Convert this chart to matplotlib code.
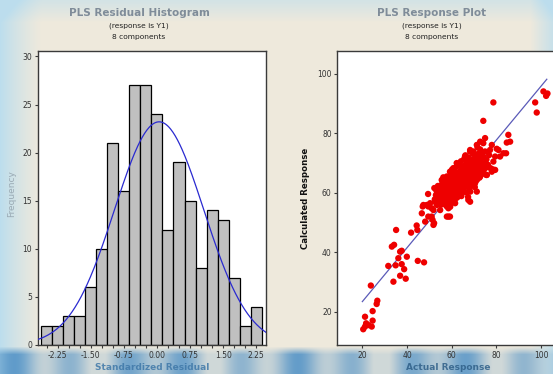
#!/usr/bin/env python3
"""
PLS residual histogram and response plot (Minitab style), two panels.
"""

import numpy as np
import matplotlib
matplotlib.use('Agg')
import matplotlib.pyplot as plt
from matplotlib.ticker import MultipleLocator

plt.rcParams.update({
    'font.family': 'DejaVu Sans',
    'font.size': 6,
})

# ---- histogram data (standardized residuals, bin width 0.25) ----
BIN_CENTERS = [-2.50, -2.25, -2.00, -1.75, -1.50, -1.25, -1.00, -0.75, -0.50, -0.25,
               0.00, 0.25, 0.50, 0.75, 1.00, 1.25, 1.50, 1.75, 2.00, 2.25]
BIN_COUNTS = [2, 2, 3, 3, 6, 10, 21, 16, 27, 27,
              24, 12, 19, 15, 8, 14, 13, 7, 2, 4]
BIN_WIDTH = 0.25
FIT_MEAN = 0.05
FIT_SD = 1.01
HIST_XTICKS = [-2.25, -1.50, -0.75, 0.00, 0.75, 1.50, 2.25]
HIST_YTICKS = [0, 5, 10, 15, 20, 25, 30]

# ---- response plot data (actual vs calculated) ----
low_tail = [
    (20.4, 14.1), (21.2, 15.0), (21.7, 16.1), (21.2, 18.3), (22.7, 15.5), (24.2, 15.0),
    (24.6, 17.0), (24.6, 20.2), (26.4, 22.6), (26.7, 23.7), (23.8, 28.8), (33.9, 30.1),
    (36.9, 32.1), (39.4, 31.1), (38.7, 34.3), (31.6, 35.4), (34.9, 35.6), (37.6, 36.0),
    (39.9, 38.5), (36.1, 38.0), (44.8, 37.1), (47.6, 36.6), (36.9, 40.2), (37.6, 40.5),
    (33.2, 41.9), (34.2, 42.5), (35.1, 47.5), (41.8, 46.6), (44.3, 49.0), (44.6, 47.5),
]
transition = [
    (46.6, 53.1), (47.0, 55.4), (47.3, 55.9), (48.1, 50.3), (49.4, 59.6), (49.5, 55.4),
    (50.3, 56.5), (51.0, 54.8), (51.0, 52.0), (51.4, 50.9), (51.8, 49.2), (51.8, 54.2),
    (52.1, 49.8), (53.3, 59.6), (52.5, 57.0), (53.5, 56.2), (54.8, 54.2), (55.5, 64.3),
    (57.8, 52.0), (58.5, 54.8), (57.0, 62.1), (56.2, 65.2), (54.0, 61.0), (48.8, 55.9),
    (53.3, 55.9), (55.5, 57.0), (49.5, 52.0), (59.2, 52.0),
]
core = [
    (52.4, 57.8), (52.9, 59.2), (53.6, 58.1), (53.1, 60.8), (52.2, 61.6), (53.8, 62.3),
    (54.3, 57.2), (54.6, 59.4), (54.1, 60.6),
    (55.2, 56.0), (55.6, 58.3), (55.1, 59.8), (55.8, 61.2), (55.4, 62.7), (56.3, 57.4),
    (56.7, 59.1), (56.2, 60.5), (56.9, 62.0), (56.5, 63.4), (57.3, 55.9), (57.6, 57.8),
    (57.1, 59.6), (57.8, 61.1), (57.4, 62.8), (57.9, 64.2),
    (58.2, 56.5), (58.6, 58.2), (58.3, 59.7), (58.8, 61.3), (58.4, 62.9), (58.9, 64.8),
    (59.3, 55.3), (59.6, 57.4), (59.2, 59.0), (59.7, 60.6), (59.4, 62.2), (59.8, 63.6),
    (59.5, 65.9), (60.2, 56.8), (60.6, 58.5), (60.3, 60.1), (60.8, 61.7), (60.4, 63.2),
    (60.9, 64.6), (60.5, 66.4), (60.1, 67.8),
    (61.3, 57.6), (61.7, 59.3), (61.2, 60.8), (61.8, 62.4), (61.4, 63.9), (61.9, 65.5),
    (61.6, 67.2), (62.4, 58.4), (62.8, 60.2), (62.3, 61.7), (62.9, 63.1), (62.5, 64.7),
    (62.7, 66.3), (62.2, 68.9), (63.3, 59.5), (63.7, 61.2), (63.2, 62.8), (63.8, 64.2),
    (63.4, 65.8), (63.9, 67.4), (63.6, 69.3),
    (64.3, 58.9), (64.7, 60.6), (64.2, 62.1), (64.8, 63.7), (64.4, 65.2), (64.9, 66.8),
    (64.5, 68.4), (64.1, 70.6), (65.3, 61.4), (65.7, 63.0), (65.2, 64.6), (65.8, 66.1),
    (65.4, 67.7), (65.9, 69.2), (65.5, 71.3), (66.3, 60.2), (66.7, 62.5), (66.2, 64.1),
    (66.8, 65.6), (66.4, 67.2), (66.9, 68.7), (66.6, 70.4), (66.1, 72.6),
    (67.3, 58.6), (67.7, 61.7), (67.2, 63.4), (67.8, 65.0), (67.4, 66.6), (67.9, 68.1),
    (67.5, 69.8), (67.6, 71.9), (68.3, 60.4), (68.7, 62.6), (68.2, 64.4), (68.8, 66.0),
    (68.4, 67.5), (68.9, 69.1), (68.5, 70.8), (69.3, 62.9), (69.7, 64.8), (69.2, 66.4),
    (69.8, 67.9), (69.4, 69.6), (69.9, 71.4), (69.5, 73.2),
    (70.3, 61.9), (70.7, 63.9), (70.2, 65.7), (70.8, 67.3), (70.4, 68.9), (70.9, 70.6),
    (70.6, 72.4), (71.3, 64.4), (71.7, 66.3), (71.2, 68.0), (71.8, 69.6), (71.4, 71.3),
    (71.9, 73.1), (71.5, 75.3), (72.4, 65.1), (72.8, 67.2), (72.3, 69.0), (72.9, 70.7),
    (72.5, 72.4), (72.7, 74.6),
    (73.4, 66.3), (73.8, 68.4), (73.2, 70.1), (73.9, 71.9), (73.5, 73.6), (74.4, 67.8),
    (74.8, 69.9), (74.3, 72.0), (74.9, 73.9), (75.4, 66.0), (75.8, 68.6), (75.5, 71.2),
    (76.2, 69.4), (76.7, 72.7), (77.3, 68.3), (77.9, 67.1),
    (67.4, 57.6), (71.2, 60.4), (68.2, 57.0), (63.7, 59.9), (61.5, 56.5), (57.8, 55.4),
    (58.5, 52.0), (70.4, 63.2), (72.7, 65.5), (75.7, 66.0),
]
upper = [
    (74.9, 78.4), (74.1, 76.7), (77.9, 76.1), (77.1, 74.4), (78.6, 70.5), (78.3, 67.9),
    (79.4, 72.2), (80.9, 74.4), (81.6, 72.2), (84.3, 73.3), (84.6, 76.9), (86.1, 77.2),
    (85.3, 79.5), (80.1, 74.8), (83.1, 73.3), (68.2, 73.9), (71.2, 76.1), (68.2, 74.4),
    (72.7, 77.2), (69.7, 73.9), (65.9, 72.2), (62.2, 70.0), (60.7, 68.3), (59.2, 67.1),
    (57.8, 65.5), (56.2, 64.3), (79.4, 67.7), (74.1, 66.6),
]
outliers = [
    (74.1, 84.2), (78.6, 90.4), (97.3, 90.4), (98.0, 87.0),
    (101.0, 94.1), (102.2, 92.6), (102.8, 93.4),
]
points = low_tail + transition + core + upper + outliers
ACTUAL = [p[0] for p in points]
CALCULATED = [p[1] for p in points]
FIT_X = [20.0, 102.5]
FIT_Y = [23.4, 98.2]
RESP_TICKS = [20, 40, 60, 80, 100]

W, H = 553, 374


def make_background():
    """Cream panel with light-blue haze at the edges and a blue strip at the bottom."""
    yy, xx = np.mgrid[0:H, 0:W].astype(float)
    cream = np.array([0.935, 0.915, 0.865])
    light = np.array([0.74, 0.87, 0.93])
    deep = np.array([0.33, 0.58, 0.78])
    img = np.ones((H, W, 3)) * cream
    w_left = np.clip(1 - xx / 42.0, 0, 1) ** 1.3
    w_top = np.clip(1 - yy / 22.0, 0, 1) * 0.55
    w_right = np.clip((xx - 530) / 23.0, 0, 1) * 0.8
    w = np.clip(w_left + w_top + w_right, 0, 1)[..., None]
    img = img * (1 - w) + light * w
    w_bot = np.clip((yy - 346) / 8.0, 0, 1)
    streak = 0.5 + 0.25 * np.sin(xx / 9.0) + 0.15 * np.sin(xx / 23.0 + 1.0)
    w_bot = (w_bot * np.clip(streak, 0.2, 1.0))[..., None]
    img = img * (1 - w_bot) + deep * w_bot
    return np.clip(img, 0, 1)


def style_axes(ax):
    for s in ax.spines.values():
        s.set_color('#3a3a3a')
        s.set_linewidth(1.0)
    ax.tick_params(direction='out', length=2.5, width=0.8, colors='#3a3a3a',
                   labelsize=5.5, pad=1.5, labelcolor='#333333')
    ax.set_facecolor('white')


fig = plt.figure(figsize=(W / 100, H / 100), dpi=100)
bg = fig.add_axes([0, 0, 1, 1], zorder=-1)
bg.imshow(make_background(), aspect='auto', extent=[0, 1, 0, 1])
bg.axis('off')

# ---- left: residual histogram ----
ax1 = fig.add_axes([37.7 / W, 1 - 345 / H, (266 - 37.7) / W, (345 - 50.7) / H])
ax1.bar(BIN_CENTERS, BIN_COUNTS, width=BIN_WIDTH, color='#c0c0c0',
        edgecolor='black', linewidth=0.9, zorder=2)
xs = np.linspace(-2.70, 2.47, 300)
n = sum(BIN_COUNTS)
dens = n * BIN_WIDTH / (FIT_SD * np.sqrt(2 * np.pi)) * np.exp(-0.5 * ((xs - FIT_MEAN) / FIT_SD) ** 2)
ax1.plot(xs, dens, color='#2a2ad0', linewidth=0.9, zorder=3)
ax1.set_xlim(-2.70, 2.47)
ax1.set_ylim(0, 30.6)
ax1.set_xticks(HIST_XTICKS)
ax1.set_xticklabels([f"{v:.2f}" for v in HIST_XTICKS])
ax1.xaxis.set_minor_locator(MultipleLocator(0.25))
ax1.set_yticks(HIST_YTICKS)
style_axes(ax1)
ax1.tick_params(which='minor', direction='out', length=2.5, width=0.8, colors='#3a3a3a')

# ---- right: response plot ----
ax2 = fig.add_axes([337.3 / W, 1 - 345 / H, (562 - 337.3) / W, (345 - 50.7) / H])
ax2.plot(FIT_X, FIT_Y, color='#5a5ab8', linewidth=0.9, zorder=2)
ax2.scatter(ACTUAL, CALCULATED, s=21, color='#ee0000', edgecolors='none', zorder=3)
ax2.set_xlim(8.8, 109.3)
ax2.set_ylim(8.8, 107.8)
ax2.set_xticks(RESP_TICKS)
ax2.set_yticks(RESP_TICKS)
style_axes(ax2)

# ---- titles and labels ----
title_kw = dict(ha='center', va='center', fontsize=7.5, fontweight='bold', color='#7f8c99')
sub_kw = dict(ha='center', va='center', fontsize=5.4, color='#222222')
for cx, title in [(139 / W, 'PLS Residual Histogram'), (432 / W, 'PLS Response Plot')]:
    fig.text(cx, 1 - 13 / H, title, **title_kw)
    fig.text(cx, 1 - 26 / H, '(response is Y1)', **sub_kw)
    fig.text(cx, 1 - 37 / H, '8 components', **sub_kw)

fig.text(152 / W, 1 - 367 / H, 'Standardized Residual', ha='center', va='center',
         fontsize=6.5, fontweight='bold', color='#3f78a8', alpha=0.85)
fig.text(448 / W, 1 - 367 / H, 'Actual Response', ha='center', va='center',
         fontsize=6.5, fontweight='bold', color='#2f5f88', alpha=0.85)
fig.text(12 / W, 1 - 194 / H, 'Frequency', ha='center', va='center', rotation=90,
         fontsize=6.5, color='#9aaab4')
fig.text(305 / W, 1 - 198 / H, 'Calculated Response', ha='center', va='center',
         rotation=90, fontsize=6.2, fontweight='bold', color='#111111')

fig.savefig('out.png', dpi=100)
